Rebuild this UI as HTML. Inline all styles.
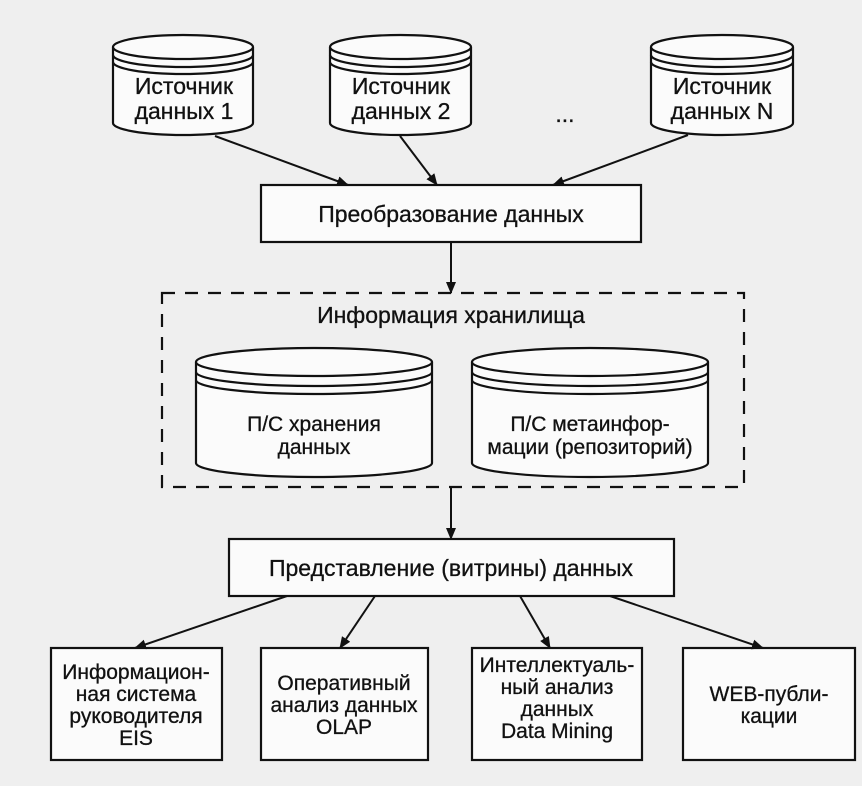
<!DOCTYPE html>
<html><head><meta charset="utf-8"><style>
html,body{margin:0;padding:0;background:#eeeeee;}
svg{display:block;}
text{font-family:"Liberation Sans",sans-serif;fill:#111;text-anchor:middle;stroke:#111;stroke-width:0.3;}
</style></head><body>
<svg width="862" height="786" viewBox="0 0 862 786" xmlns="http://www.w3.org/2000/svg">
<defs>
<marker id="a" markerWidth="12" markerHeight="10" refX="11" refY="5" orient="auto" markerUnits="userSpaceOnUse">
<path d="M0,0 L12,5 L0,10 Z" fill="#111"/></marker>
</defs>
<rect width="862" height="786" fill="#efefef"/>
<g stroke="#111" stroke-width="2.2" fill="#fbfbfb">
<g>
<path d="M113,47 L113,123 A70,12 0 0 0 253,123 L253,47"/>
<ellipse cx="183" cy="47" rx="70" ry="12"/>
<path d="M113,55 A70,12 0 0 0 253,55 M113,62 A70,12 0 0 0 253,62" fill="none"/>
</g>
<g>
<path d="M330,47 L330,123 A70.5,12 0 0 0 471,123 L471,47"/>
<ellipse cx="400.5" cy="47" rx="70.5" ry="12"/>
<path d="M330,55 A70.5,12 0 0 0 471,55 M330,62 A70.5,12 0 0 0 471,62" fill="none"/>
</g>
<g>
<path d="M651,47 L651,123 A71,12 0 0 0 793,123 L793,47"/>
<ellipse cx="722" cy="47" rx="71" ry="12"/>
<path d="M651,55 A71,12 0 0 0 793,55 M651,62 A71,12 0 0 0 793,62" fill="none"/>
</g>
<rect x="261" y="185" width="380" height="57"/>
<rect x="162" y="293" width="582" height="194" fill="none" stroke-dasharray="13,10"/>
<g>
<path d="M196,362 L196,463 A118,14 0 0 0 432,463 L432,362"/>
<ellipse cx="314" cy="362" rx="118" ry="14"/>
<path d="M196,372 A118,14 0 0 0 432,372 M196,380 A118,14 0 0 0 432,380" fill="none"/>
</g>
<g>
<path d="M472,362 L472,463 A118,14 0 0 0 708,463 L708,362"/>
<ellipse cx="590" cy="362" rx="118" ry="14"/>
<path d="M472,372 A118,14 0 0 0 708,372 M472,380 A118,14 0 0 0 708,380" fill="none"/>
</g>
<rect x="229" y="539" width="445" height="57"/>
<rect x="51" y="648" width="171" height="112"/>
<rect x="261" y="648" width="167" height="112"/>
<rect x="472" y="648" width="170" height="112"/>
<rect x="683" y="648" width="172" height="112"/>
</g>
<g stroke="#111" stroke-width="2" fill="none" marker-end="url(#a)">
<line x1="215" y1="136" x2="348" y2="185"/>
<line x1="400" y1="136" x2="437" y2="185"/>
<line x1="688" y1="135" x2="553" y2="185"/>
<line x1="451" y1="242" x2="451" y2="293"/>
<line x1="451" y1="487" x2="451" y2="539"/>
<line x1="287" y1="596" x2="135" y2="648"/>
<line x1="375" y1="596" x2="340" y2="648"/>
<line x1="520" y1="596" x2="550" y2="648"/>
<line x1="610" y1="596" x2="763" y2="648"/>
</g>
<g font-size="23">
<text x="184" y="94">Источник</text><text x="184" y="119">данных 1</text>
<text x="401" y="94">Источник</text><text x="401" y="119">данных 2</text>
<text x="722" y="94">Источник</text><text x="722" y="119">данных N</text>
<text x="565" y="122">...</text>
<text x="451" y="222">Преобразование данных</text>
<text x="451" y="323">Информация хранилища</text>
<text x="451" y="576">Представление (витрины) данных</text>
</g>
<g font-size="21">
<text x="314" y="431">П/С хранения</text><text x="314" y="454">данных</text>
<text x="590" y="431">П/С метаинфор-</text><text x="590" y="454">мации (репозиторий)</text>
</g>
<g font-size="21">
<text x="136" y="679">Информацион-</text><text x="136" y="701">ная система</text><text x="136" y="723">руководителя</text><text x="136" y="745">EIS</text>
<text x="344" y="690">Оперативный</text><text x="344" y="712">анализ данных</text><text x="344" y="734">OLAP</text>
<text x="557" y="672">Интеллектуаль-</text><text x="557" y="694">ный анализ</text><text x="557" y="716">данных</text><text x="557" y="738">Data Mining</text>
<text x="769" y="701">WEB-публи-</text><text x="769" y="723">кации</text>
</g>
</svg>
</body></html>
